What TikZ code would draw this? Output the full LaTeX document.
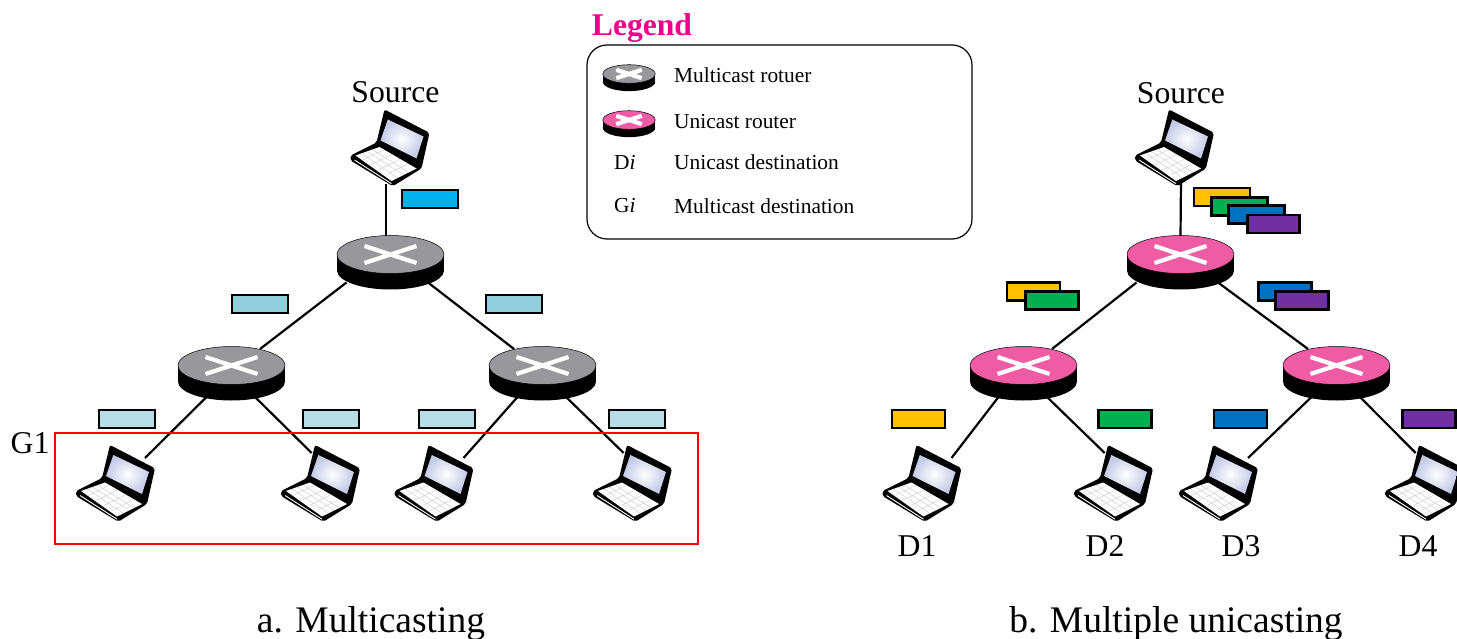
\documentclass[tikz,border=0pt]{standalone}
\usepackage{fontspec}
\setmainfont{Liberation Serif}
\usetikzlibrary{shapes.geometric,backgrounds}
\definecolor{grayr}{HTML}{98989C}
\definecolor{pinkr}{HTML}{F05CA4}
\definecolor{pkcyan}{HTML}{00B0F0}
\definecolor{pkteal}{HTML}{92CDDC}
\definecolor{pklight}{HTML}{B7DDE8}
\definecolor{pkyellow}{HTML}{FFC000}
\definecolor{pkgreen}{HTML}{00B050}
\definecolor{pkblue}{HTML}{0070C0}
\definecolor{pkpurple}{HTML}{7030A0}
\definecolor{legendmag}{HTML}{EC008C}
\definecolor{screenedge}{HTML}{C3CAE6}
\tikzset{
  link/.style={draw=black,line width=2.2pt},
  pkt/.style={draw=black,line width=2.4pt,fill=#1,rectangle,inner sep=0pt,outer sep=0pt,minimum width=56pt,minimum height=18pt},
  lbl/.style={font=\fontsize{31.7}{34}\selectfont,inner sep=0pt},
  captxt/.style={font=\fontsize{37.5}{40}\selectfont,inner sep=0pt},
  legtxt/.style={font=\fontsize{21.4}{24}\selectfont,inner sep=0pt,anchor=west},
  pics/router/.style={code={
    \fill[black] (-53.5,0) rectangle (53.5,16);
    \fill[black] (0,16) ellipse[x radius=53.5,y radius=19];
    \filldraw[fill=#1,draw=black,line width=0.5pt] (0,0) ellipse[x radius=53.5,y radius=19];
    \draw[white,line width=4.2pt] (-26,-8.5) -- (26,8.5) (-26,8.5) -- (26,-8.5);
    \coordinate (-top) at (-4.5,-17);
    \coordinate (-c) at (0,-17);
    \coordinate (-dl) at (-25,31.5);
    \coordinate (-dr) at (23.5,31.5);
    \coordinate (-tl) at (-44,28);
    \coordinate (-tr) at (37.5,28);
    \coordinate (-ul) at (-28.5,-16.5);
    \coordinate (-ur) at (28.5,-16.5);
  }},
  pics/laptop/.style={code={
    \fill[black,rounded corners=2pt] (-6,-39) -- (39,-15.7) -- (31,20) -- (2.3,37.7) -- (-40,12) -- (-40,7) -- (-14,-6) -- cycle;
    \shade[inner color=white,outer color=screenedge] (-2.7,-29) -- (33,-12) -- (26,10) -- (-10,-8) -- cycle;
    \fill[white] (-35,7) -- (-11,-1.5) -- (26,20) -- (1,32.5) -- cycle;
    \draw[black!18,line width=0.5pt] (-29,5) -- (7,29) (-23.5,3) -- (12.5,26) (-18,1) -- (18,24)
      (-28,11.5) -- (-6.5,1.3) (-20,16.5) -- (1.5,6) (-12,21.5) -- (9.5,10.7) (-4,26.5) -- (17,15.5);
    \draw[white,line width=0.9pt] (-36,11.5) -- (1,35.2);
    \coordinate (-bottom) at (-4.5,36);
    \coordinate (-bottomb) at (6,30);
    \coordinate (-ur) at (29,-26);
    \coordinate (-ul) at (-9.3,-31);
  }}
}
\begin{document}
\begin{tikzpicture}[x=1pt,y=-1pt]
\useasboundingbox (0,0) rectangle (1457,639);
% left tree
\pic (ra0) at (390.5,254.5) {router=grayr};
\pic (ra1) at (231.5,365.5) {router=grayr};
\pic (ra2) at (542.5,365.5) {router=grayr};
\pic (la0) at (390.5,148.5) {laptop};
\pic (la1) at (116,484) {laptop};
\pic (la2) at (321,484) {laptop};
\pic (la3) at (434.5,484) {laptop};
\pic (la4) at (633,484) {laptop};
% right tree
\pic (rb0) at (1180.5,254.5) {router=pinkr};
\pic (rb1) at (1023.5,365.5) {router=pinkr};
\pic (rb2) at (1336.5,365.5) {router=pinkr};
\pic (lb0) at (1175,148.5) {laptop};
\pic (lb1) at (922.5,484) {laptop};
\pic (lb2) at (1114,484) {laptop};
\pic (lb3) at (1219,484) {laptop};
\pic (lb4) at (1425,484) {laptop};
% connectors
\begin{scope}[on background layer]
\draw[link] (la0-bottom) -- (ra0-top);
\draw[link] (ra0-tl) -- (ra1-ur);
\draw[link] (ra0-tr) -- (ra2-ul);
\draw[link] (ra1-dl) -- (la1-ur);
\draw[link] (ra1-dr) -- (la2-ul);
\draw[link] (ra2-dl) -- (la3-ur);
\draw[link] (ra2-dr) -- (la4-ul);
\draw[link] (lb0-bottomb) -- (rb0-c);
\draw[link] (rb0-tl) -- (rb1-ur);
\draw[link] (rb0-tr) -- (rb2-ul);
\draw[link] (rb1-dl) -- (lb1-ur);
\draw[link] (rb1-dr) -- (lb2-ul);
\draw[link] (rb2-dl) -- (lb3-ur);
\draw[link] (rb2-dr) -- (lb4-ul);
% red group
\node[draw=red,line width=2.4pt,rectangle,inner sep=0pt,minimum width=643pt,minimum height=111pt] (group) at (376.5,488.5) {};
\end{scope}
% packets a
\node[pkt=pkcyan] (pa0) at (430,199) {};
\node[pkt=pkteal] (pa1) at (260,304) {};
\node[pkt=pkteal] (pa2) at (514,304) {};
\node[pkt=pklight] (pa3) at (127,419) {};
\node[pkt=pklight] (pa4) at (331,419) {};
\node[pkt=pklight] (pa5) at (447,419) {};
\node[pkt=pklight] (pa6) at (637,419) {};
% packets b
\node[pkt=pkyellow] (pb1) at (1222,197) {};
\node[pkt=pkgreen] (pb2) at (1239.5,206.5) {};
\node[pkt=pkblue] (pb3) at (1256.5,214.5) {};
\node[pkt=pkpurple,minimum width=52pt] (pb4) at (1273.5,224) {};
\node[pkt=pkyellow,minimum width=53pt] (pb5) at (1033.5,291.5) {};
\node[pkt=pkgreen,minimum width=53pt] (pb6) at (1052,300.5) {};
\node[pkt=pkblue,minimum width=53pt] (pb7) at (1285,291.5) {};
\node[pkt=pkpurple,minimum width=53pt] (pb8) at (1302,300.5) {};
\node[pkt=pkyellow,minimum width=53pt] (pb9) at (918.5,419) {};
\node[pkt=pkgreen,minimum width=53pt] (pb10) at (1125,419) {};
\node[pkt=pkblue,minimum width=53pt] (pb11) at (1240.5,419) {};
\node[pkt=pkpurple,minimum width=53pt] (pb12) at (1429,419) {};
% labels
\node[lbl] (srca) at (395.5,92) {Source};
\node[lbl] (srcb) at (1181,93) {Source};
\node[lbl] (g1) at (30,443) {G1};
\node[lbl] (d1) at (917,546) {D1};
\node[lbl] (d2) at (1105,546) {D2};
\node[lbl] (d3) at (1241,546) {D3};
\node[lbl] (d4) at (1418,546) {D4};
\node[captxt] (capa) at (371,624) {a. Multicasting};
\node[captxt] (capb) at (1176,624) {b. Multiple unicasting};
% legend
\node[font=\bfseries\fontsize{31.6}{34}\selectfont,text=legendmag,inner sep=0pt] (legt) at (642,28) {Legend};
\node[draw=black,line width=1.2pt,rectangle,rounded corners=20pt,minimum width=385pt,minimum height=194pt,inner sep=0pt] (legbox) at (779.5,142) {};
\pic[scale=0.49] (lg1) at (629,74) {router=grayr};
\pic[scale=0.49] (lg2) at (629,120) {router=pinkr};
\node[legtxt] (t1) at (674,75) {Multicast rotuer};
\node[legtxt] (t2) at (674,122) {Unicast router};
\node[legtxt] (t3) at (674,162.5) {Unicast destination};
\node[legtxt] (t4) at (674,206) {Multicast destination};
\node[legtxt] (k3) at (614,162.5) {D\textit{i}};
\node[legtxt] (k4) at (614,206) {G\textit{i}};
\end{tikzpicture}
\end{document}
